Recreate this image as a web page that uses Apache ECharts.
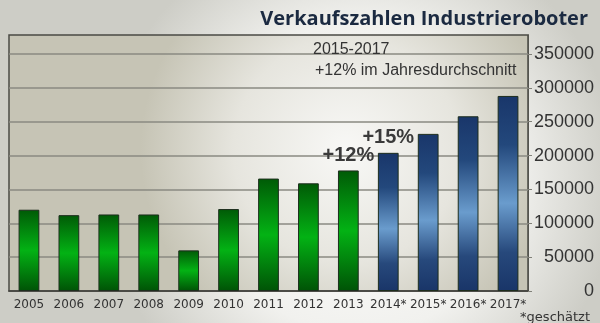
<!DOCTYPE html>
<html><head><meta charset="utf-8">
<script src="https://cdn.jsdelivr.net/npm/echarts@6/dist/echarts.min.js"></script>
<style>html,body{margin:0;padding:0;}#c{width:600px;height:323px;}</style>
</head><body><div id="c"></div>
<script>
const categories = ['2005','2006','2007','2008','2009','2010','2011','2012','2013','2014*','2015*','2016*','2017*'];
const values = [120000,112000,113000,113000,60000,121000,166000,159000,178000,204000,232000,258000,288000];
const estimatedFrom = 9; // index of first estimated year
const barLabels = {8:'+12%', 9:'+15%'};
const yTicks = [0,50000,100000,150000,200000,250000,300000,350000];

const green = {type:'linear',x:0,y:0,x2:0,y2:1,colorStops:[
  {offset:0,color:'#005a06'},{offset:0.5,color:'#03b214'},{offset:1,color:'#005306'}]};
const blue = {type:'linear',x:0,y:0,x2:0,y2:1,colorStops:[
  {offset:0,color:'#19366a'},{offset:0.25,color:'#23487c'},{offset:0.55,color:'#6a9ccd'},{offset:0.8,color:'#27497c'},{offset:1,color:'#193568'}]};

const data = values.map((v,i)=>{
  const item = {value:v, itemStyle:{color: i>=estimatedFrom?blue:green}};
  if (barLabels[i]) item.label = {show:true, position:'top', distance:5, formatter:barLabels[i],
    fontFamily:'Liberation Sans', fontWeight:'bold', fontSize:20, color:'#3a3a3a'};
  return item;
});

const chart = echarts.init(document.getElementById('c'), null, {renderer:'canvas'});
chart.setOption({
  animation:false,
  backgroundColor:{type:'radial',x:0.6,y:0.55,r:0.8,colorStops:[
    {offset:0,color:'#ffffff'},{offset:0.6,color:'#f1f1ee'},{offset:1,color:'#cdcdc6'}]},
  title:[
    {text:'Verkaufszahlen Industrieroboter', right:7, top:4,
     textStyle:{fontFamily:'Open Sans', fontWeight:'bold', fontSize:20, color:'#1b2a41'}},
    {text:'*geschätzt', right:5, top:306,
     textStyle:{fontFamily:'DejaVu Sans', fontWeight:'normal', fontSize:13, color:'#333'}},
    {text:'2015-2017', left:308, top:37,
     textStyle:{fontFamily:'Liberation Sans', fontWeight:'normal', fontSize:16, color:'#333'}},
    {text:'+12% im Jahresdurchschnitt', left:310, top:58,
     textStyle:{fontFamily:'Liberation Sans', fontWeight:'normal', fontSize:16, color:'#333'}}
  ],
  grid:{left:9, right:72, top:35, bottom:32, show:true, borderColor:'#4a4a44', borderWidth:1.5,
    backgroundColor:{type:'radial',x:0.65,y:0.45,r:0.8,colorStops:[
      {offset:0,color:'#f8f8f6'},{offset:0.55,color:'#e6e5de'},{offset:1,color:'#c6c4b5'}]}},
  xAxis:{type:'category', data:categories,
    axisLine:{lineStyle:{color:'#3a3a36', width:1.5}},
    axisTick:{show:false},
    axisLabel:{fontFamily:'DejaVu Sans', fontSize:12, color:'#333', margin:8, interval:0}},
  yAxis:{type:'value', position:'right', min:0, max:378000, interval:50000,
    axisLine:{show:true, lineStyle:{color:'#55554f', width:1}},
    axisTick:{show:true, length:4, lineStyle:{color:'#808078'}},
    splitLine:{showMaxLine:false, lineStyle:{color:'#8a8a82', width:1.5}},
    axisLabel:{showMaxLabel:false, align:'right', margin:66,
      fontFamily:'Liberation Sans', fontSize:18, color:'#333',
      formatter:v=> yTicks.includes(v)? String(v):''}},
  series:[{type:'bar', data:data, barWidth:'52%',
    itemStyle:{borderColor:'#1d2d1d', borderWidth:1}}]
});
</script></body></html>
